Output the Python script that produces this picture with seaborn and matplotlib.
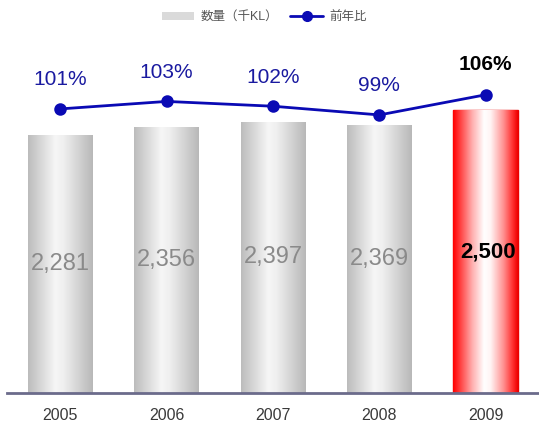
import numpy as np
import pandas as pd
import matplotlib
matplotlib.use("Agg")
import matplotlib.pyplot as plt
import seaborn as sns
from matplotlib.colors import LinearSegmentedColormap
from matplotlib.lines import Line2D
from matplotlib.patches import Patch

years = ["2005", "2006", "2007", "2008", "2009"]
volume = [2281, 2356, 2397, 2369, 2500]
ratio = [100.8, 103.3, 101.7, 98.8, 105.53]
ratio_labels = ["101%", "103%", "102%", "99%", "106%"]
legend_labels = ["数量（千KL）", "前年比"]

sns.set_theme(style="white")
plt.rcParams["font.family"] = ["Liberation Sans", "Noto Sans CJK JP", "DejaVu Sans"]

fig = plt.figure(figsize=(5.39, 4.28), dpi=100)
ax = fig.add_axes([7 / 539, 35 / 428, 532 / 539, 393 / 428])

df = pd.DataFrame({"year": years, "volume": volume, "ratio": ratio})
sns.barplot(data=df, x="year", y="volume", hue="year", legend=False,
            palette=["#cccccc"] * 4 + ["#ff3030"], width=0.61, ax=ax,
            saturation=1)

gray_cmap = LinearSegmentedColormap.from_list(
    "g", [(0, "#bcbcbc"), (0.42, "#f6f6f6"), (0.55, "#efefef"), (1, "#b8b8b8")])
red_cmap = LinearSegmentedColormap.from_list(
    "r", [(0, "#ff0000"), (0.1, "#ff3a3a"), (0.3, "#ffb0b0"), (0.48, "#ffffff"),
          (0.58, "#fff4f4"), (0.78, "#ff9090"), (0.92, "#ff3030"), (1, "#ee0000")])
grad = np.linspace(0, 1, 256).reshape(1, -1)
for i, p in enumerate(ax.patches):
    x0, y0 = p.get_x(), p.get_y()
    w, h = p.get_width(), p.get_height()
    cmap = red_cmap if i == 4 else gray_cmap
    im = ax.imshow(grad, cmap=cmap, aspect="auto", extent=[x0, x0 + w, y0, y0 + h],
                   zorder=2, interpolation="bilinear")
    im.set_clip_path(p)
    p.set_facecolor("none")
    if i == 4:
        p.set_edgecolor("#e80000")
        p.set_linewidth(1.0)
    else:
        p.set_edgecolor("none")
    cx = x0 + w / 2
    if i == 4:
        ax.text(cx + 0.02, y0 + h / 2, f"{volume[i]:,}", ha="center", va="center",
                fontsize=16, fontweight="bold", color="black", zorder=4)
    else:
        ax.text(cx, y0 + h / 2, f"{volume[i]:,}", ha="center", va="center",
                fontsize=17, color="#8a8a8a", zorder=4)

ax.set_xlim(-0.5, 4.5)
ax.set_ylim(0, 3475)
ax.set_yticks([])
ax.set_xlabel("")
ax.set_ylabel("")
for s in ["top", "left", "right"]:
    ax.spines[s].set_visible(False)
ax.spines["bottom"].set_color("#6b6b8b")
ax.spines["bottom"].set_linewidth(2)
ax.tick_params(axis="x", length=0, pad=11, labelsize=11.5, labelcolor="#3a3a3a")

ax2 = ax.twinx()
sns.pointplot(data=df, x="year", y="ratio", color="#0a0ab4", markers="o",
              markersize=7.5, linewidth=2, ax=ax2)
ax2.set_ylim(6.13, 137.1)
ax2.set_xlim(-0.5, 4.5)
ax2.set_yticks([])
ax2.set_ylabel("")
ax2.set_xlabel("")
for s in ax2.spines.values():
    s.set_visible(False)
for i, lab in enumerate(ratio_labels):
    if i == 4:
        ax2.annotate(lab, (i, ratio[i]), xytext=(0, 22), textcoords="offset points",
                     ha="center", va="center", fontsize=15, fontweight="bold", color="black")
    else:
        ax2.annotate(lab, (i, ratio[i]), xytext=(0, 21), textcoords="offset points",
                     ha="center", va="center", fontsize=15, color="#1a1aa0")

handles = [Patch(facecolor="#dadada", edgecolor="none"),
           Line2D([0], [0], color="#0a0ab4", lw=2, marker="o", markersize=7)]
fig.legend(handles, legend_labels, loc="upper center", bbox_to_anchor=(0.49, 1.0),
           ncol=2, frameon=False, fontsize=9, labelcolor="#555555",
           handlelength=2.6, columnspacing=1.0, handletextpad=0.5)

fig.savefig("out.png", dpi=100)
